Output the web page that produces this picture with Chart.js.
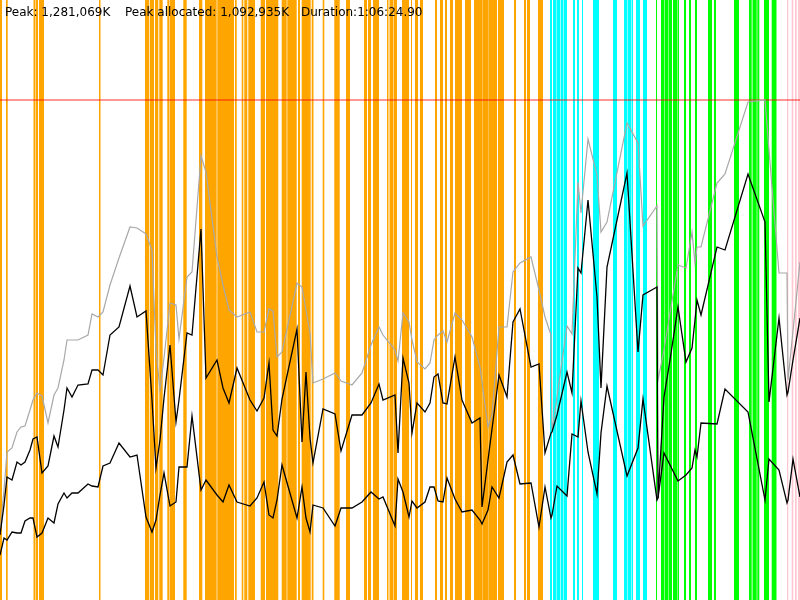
<!DOCTYPE html>
<html><head><meta charset="utf-8">
<script src="https://cdn.jsdelivr.net/npm/chart.js@4"></script>
<style>
html,body{margin:0;padding:0;background:#fff;}
#wrap{position:relative;width:800px;height:600px;overflow:hidden;}
#info{position:absolute;left:0;top:5px;width:800px;height:14px;font:12px "DejaVu Sans",sans-serif;line-height:14px;color:#000;}
#info span{position:absolute;top:0;white-space:nowrap;}
</style></head><body>
<div id="wrap"><canvas id="c" width="800" height="600"></canvas>
<div id="info"><span style="left:5px">Peak: 1,281,069K</span><span style="left:125px">Peak allocated: 1,092,935K</span><span style="left:301px">Duration:1:06:24.90</span></div></div>
<script>
// sample times (arbitrary time units across the run)
const times = [0,4,7,12,17,21,25,30,33,37,42,48,54,58,64,67,72,78,88,92,98,103,110,119,130,137,146,152,156,160,164,170,176,179,187,192,201,206,217,223,229,237,250,257,264,269,273,277,282,297,302,306,310,313,323,335,341,352,362,371,379,383,395,398,403,409,412,417,425,430,434,438,443,447,455,462,472,480,482,488,492,499,507,513,520,531,539,545,551,552,557,567,572,578,581,588,597,601,607,627,638,643,657,658,664,670,678,686,692,695,697,701,717,725,748,765,769,779,787,788,793,800];
// memory, in units where the peak (1,281,069K) = 500
const totalMem = [67,110,148,152,168,173,174,190,200,207,204,177,205,212,240,260,260,260,265,286,283,288,315,342,373,372,366,350,250,210,242,297,295,261,323,328,444,428,343,315,290,283,288,268,268,291,289,243,248,317,313,290,267,217,221,227,219,215,227,255,273,265,250,239,287,278,260,238,231,237,260,265,269,258,287,280,263,233,218,173,185,273,273,328,337,343,310,283,265,168,203,274,266,418,387,461,425,368,378,477,457,374,394,220,250,287,335,332,368,337,353,353,417,426,498,500,450,327,327,220,269,338];
const allocatedMem = [65,95,123,120,138,135,138,150,161,163,127,134,164,153,190,212,203,215,216,230,230,225,265,273,314,283,289,200,132,160,202,255,178,200,267,265,371,222,240,212,197,232,200,189,202,237,170,164,201,271,158,228,162,137,191,186,149,185,185,197,216,200,205,147,242,217,167,197,188,197,223,226,197,196,243,200,177,182,93,140,171,225,203,278,291,233,236,147,167,168,185,228,207,332,327,400,303,212,333,427,248,305,313,102,203,240,293,238,252,280,300,285,353,350,426,378,198,282,205,208,240,282];
const liveMem = [45,62,60,68,67,67,79,82,82,63,67,82,77,96,107,102,107,107,116,114,113,134,137,157,143,145,83,68,80,105,127,94,98,133,133,184,110,120,105,98,115,98,94,102,118,85,82,100,135,82,113,82,68,95,92,74,92,92,98,108,101,103,74,121,108,83,99,92,98,113,113,99,98,122,101,88,90,80,76,90,113,102,138,145,116,117,73,113,82,85,114,104,166,163,199,148,106,167,214,124,152,201,100,102,147,135,119,125,132,150,143,177,176,211,188,100,141,130,97,100,141,103];
const peakLevel = 500;
// activity spans [start, end] in the same time units
const orangeSpans = [[0,2],[6,7.7],[33.5,35],[35.5,38],[39,44],[99,100.5],[145,149.3],[150,154],[155,158.3],[159.3,162.7],[167.3,169.5],[170,175],[183.3,186.7],[199,202.3],[205,216.7],[217.3,234],[235,236.7],[241.7,243.3],[244.3,247.3],[248.3,255],[260.7,265],[266,278.3],[281.7,286.7],[287.3,296.7],[298,300],[301.7,310.7],[311.7,313.5],[322.7,324.3],[334.3,339.7],[346,350],[364,367],[368,371],[373,379],[387,388.5],[389.5,393],[393.5,397],[402,409],[411,412],[415,418],[420,423],[435,437],[440,443],[445,447],[450,453],[455,462],[465,471],[474,482],[482.3,488],[488.3,497],[498,504],[514,516],[524,526],[527,530],[538,543]];
const cyanSpans = [[550,552],[553,556.5],[557,560],[560.6,563.3],[563.8,567],[573,575],[577,579],[582,583],[593,599],[613,617],[624,627],[627.5,631],[631.5,633],[636,640],[643,647]];
const greenSpans = [[656,657],[661,664],[664.5,668],[668.5,672],[673,677],[677.5,679],[684,686],[689,691],[695,697],[708,712],[714,716],[734,739],[749,751.7],[752.5,756.7],[757.3,759.3],[764,769],[771.7,776.7]];
const pinkSpans = [[787,788.3],[791.7,793.3],[795,796.7],[798,800]];

function series(vals){ return times.map((t,i)=>({x:t,y:vals[i]})); }
function bandPoints(spans){ const p=[]; spans.forEach(([s,e])=>{p.push({x:s,y:1},{x:e,y:0});}); return p; }
function band(spans,color){
  return {type:'line',data:bandPoints(spans),yAxisID:'band',stepped:true,fill:'start',
    backgroundColor:color,borderColor:'rgba(0,0,0,0)',borderWidth:0,pointRadius:0,order:10};
}
function line(vals,color,w,ord){
  return {type:'line',data:series(vals),yAxisID:'y',borderColor:color,borderWidth:w,pointRadius:0,tension:0,fill:false,order:ord};
}
new Chart(document.getElementById('c'),{
  type:'line',
  data:{datasets:[
    band(orangeSpans,'#FFA500'),
    band(cyanSpans,'#00FFFF'),
    band(greenSpans,'#00FF00'),
    band(pinkSpans,'#FFC8D0'),
    {type:'line',data:[{x:0,y:peakLevel},{x:800,y:peakLevel}],yAxisID:'y',borderColor:'rgba(255,0,0,0.55)',borderWidth:1.5,pointRadius:0,fill:false,order:5},
    line(totalMem,'#A8A8A8',1.2,3),
    line(liveMem,'#000000',1.3,2),
    line(allocatedMem,'#000000',1.3,1)
  ]},
  options:{
    responsive:false,animation:false,
    layout:{padding:0},
    plugins:{legend:{display:false},tooltip:{enabled:false},title:{display:false}},
    scales:{
      x:{type:'linear',min:0,max:800,display:false},
      y:{min:0,max:600,display:false},
      band:{min:0,max:1,display:false}
    }
  }
});
</script>
</body></html>
